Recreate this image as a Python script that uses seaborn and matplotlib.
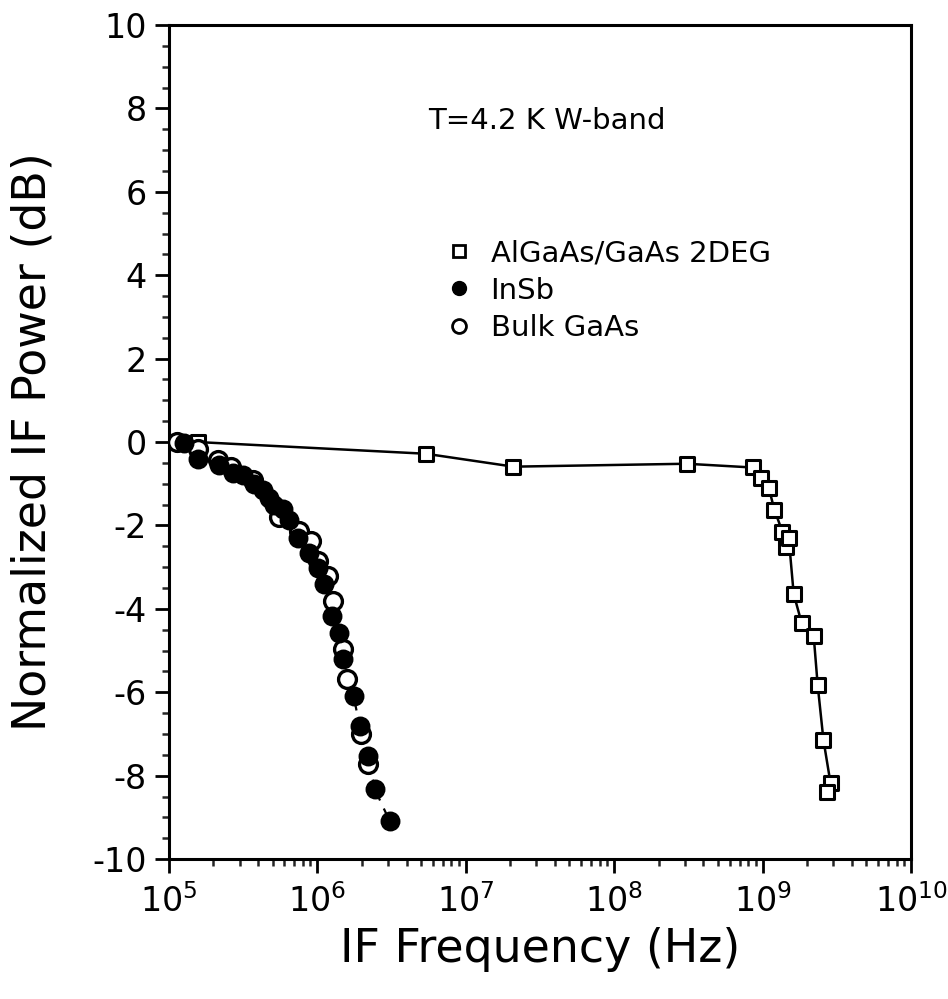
import numpy as np
import pandas as pd
import matplotlib
matplotlib.use("Agg")
import matplotlib.pyplot as plt
import seaborn as sns
from matplotlib.lines import Line2D
from matplotlib.ticker import LogLocator, MultipleLocator

# ---- data ----
algaas_freq = [1.57e5, 5.38e6, 2.10e7, 3.08e8, 8.57e8, 9.70e8, 1.10e9, 1.20e9, 1.36e9,
               1.43e9, 1.50e9, 1.62e9, 1.83e9, 2.21e9, 2.35e9, 2.57e9, 2.87e9, 2.70e9]
algaas_db = [0.0, -0.28, -0.59, -0.52, -0.61, -0.85, -1.09, -1.62, -2.15,
             -2.51, -2.29, -3.64, -4.33, -4.65, -5.82, -7.14, -8.18, -8.39]

insb_freq = [1.26e5, 1.57e5, 2.17e5, 2.70e5, 3.15e5, 3.73e5, 4.29e5, 4.71e5, 5.09e5,
             5.86e5, 6.43e5, 7.39e5, 8.77e5, 1.01e6, 1.11e6, 1.25e6, 1.40e6, 1.49e6,
             1.76e6, 1.93e6, 2.19e6, 2.44e6, 3.08e6]
insb_db = [-0.03, -0.40, -0.56, -0.73, -0.80, -1.00, -1.16, -1.33, -1.50,
           -1.60, -1.88, -2.29, -2.65, -3.01, -3.40, -4.17, -4.57, -5.19,
           -6.09, -6.81, -7.53, -8.32, -9.09]

gaas_freq = [1.13e5, 1.57e5, 2.14e5, 2.62e5, 3.68e5, 5.51e5, 7.50e5, 9.04e5, 1.02e6,
             1.18e6, 1.27e6, 1.49e6, 1.58e6, 1.96e6, 2.19e6]
gaas_db = [0.0, -0.16, -0.44, -0.61, -0.92, -1.79, -2.13, -2.37, -2.85,
           -3.21, -3.81, -4.96, -5.68, -7.00, -7.72]

series_labels = ["AlGaAs/GaAs 2DEG", "InSb", "Bulk GaAs"]
annotation_text = "T=4.2 K W-band"
xlabel = "IF Frequency (Hz)"
ylabel = "Normalized IF Power (dB)"

df_a = pd.DataFrame({"f": algaas_freq, "p": algaas_db})
df_i = pd.DataFrame({"f": insb_freq, "p": insb_db})
df_g = pd.DataFrame({"f": gaas_freq, "p": gaas_db})

sns.set_style("ticks")
plt.rcParams['font.family'] = ['DejaVu Sans']
plt.rcParams['axes.unicode_minus'] = False
plt.rcParams['text.color'] = 'black'
plt.rcParams['axes.labelcolor'] = 'black'

fig = plt.figure(figsize=(9.48, 9.99), dpi=100)
ax = fig.add_axes([0.178, 0.140, 0.783, 0.835])

# connecting lines
sns.lineplot(data=df_a, x="f", y="p", sort=False, estimator=None, ax=ax,
             color="black", linewidth=1.8, zorder=1)
sns.lineplot(data=df_i.iloc[14:], x="f", y="p", sort=False, estimator=None, ax=ax,
             color="black", linewidth=1.6, dashes=(3, 4), zorder=1)

# markers
sns.scatterplot(data=df_a, x="f", y="p", ax=ax, marker="s", s=95,
                facecolor="white", edgecolor="black", linewidth=2.2, zorder=3)
sns.scatterplot(data=df_i, x="f", y="p", ax=ax, marker="o", s=165,
                facecolor="black", edgecolor="black", linewidth=1.5, zorder=4)
sns.scatterplot(data=df_g, x="f", y="p", ax=ax, marker="o", s=165,
                facecolor="white", edgecolor="black", linewidth=2.4, zorder=3)

ax.set_xscale("log")
ax.set_xlim(1e5, 1e10)
ax.set_ylim(-10, 10)
ax.yaxis.set_major_locator(MultipleLocator(2))
ax.yaxis.set_minor_locator(MultipleLocator(0.5))
ax.xaxis.set_major_locator(LogLocator(base=10, numticks=10))
ax.xaxis.set_minor_locator(LogLocator(base=10, subs=np.arange(2, 10), numticks=100))

for s in ax.spines.values():
    s.set_linewidth(2.2)
    s.set_color("black")
    s.set_visible(True)

ax.tick_params(axis="both", which="major", direction="out", length=10, width=2,
               labelsize=24, pad=6, colors="black", top=False, right=False)
ax.tick_params(axis="x", which="major", pad=8)
ax.tick_params(axis="both", which="minor", direction="out", length=5, width=1.8,
               top=False, right=False)

ax.set_xlabel(xlabel, fontsize=33, labelpad=6, color="black")
ax.set_ylabel(ylabel, fontsize=33, labelpad=26, color="black")

ax.text(0.35, 0.885, annotation_text, transform=ax.transAxes, fontsize=21,
        ha="left", va="center", color="black")

handles = [
    Line2D([], [], linestyle="none", marker="s", markersize=9, markerfacecolor="white",
           markeredgecolor="black", markeredgewidth=2),
    Line2D([], [], linestyle="none", marker="o", markersize=10, markerfacecolor="black",
           markeredgecolor="black"),
    Line2D([], [], linestyle="none", marker="o", markersize=10, markerfacecolor="white",
           markeredgecolor="black", markeredgewidth=2),
]
leg = ax.legend(handles, series_labels, loc="upper left", bbox_to_anchor=(0.355, 0.757),
                frameon=False, fontsize=21, handletextpad=0.6, labelspacing=0.32,
                handlelength=1.0, borderaxespad=0)
for t in leg.get_texts():
    t.set_color("black")

fig.savefig("out.png", dpi=100, facecolor="white")
